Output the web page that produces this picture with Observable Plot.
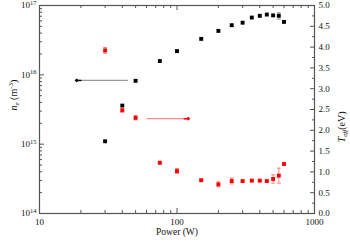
<!DOCTYPE html>
<html><head><meta charset="utf-8">
<script src="https://cdn.jsdelivr.net/npm/d3@7"></script>
<script src="https://cdn.jsdelivr.net/npm/@observablehq/plot@0.6"></script>
<style>
body{margin:0;background:#fff}
#c{position:relative;width:350px;height:242px}
#c svg{position:absolute;left:0;top:0}
</style>
</head><body><div id="c"></div>
<script>
// ---- data ----
const power   = [30, 40, 50, 75, 100, 150, 200, 250, 300, 350, 400, 450, 500, 550, 600];
const ne      = [1.1e15, 3.6e15, 8.2e15, 1.58e16, 2.2e16, 3.3e16, 4.3e16, 5.2e16, 5.65e16, 6.7e16, 7.1e16, 7.4e16, 7.2e16, 7.1e16, 5.8e16];
const neErr   = [0, 0, 0, 0, 0, 0, 0, 0, 0, 0, 0, 0, 0, 0.75e16, 0];
const teff    = [3.92, 2.48, 2.30, 1.22, 1.02, 0.80, 0.70, 0.78, 0.78, 0.79, 0.79, 0.78, 0.83, 0.91, 1.19];
const teffErr = [0.07, 0.04, 0.05, 0.02, 0.06, 0.02, 0.06, 0.07, 0.02, 0.02, 0.02, 0.02, 0.10, 0.18, 0.03];
const xTicks  = [10, 100, 1000];
const xMinor  = [20, 30, 40, 50, 60, 70, 80, 90, 200, 300, 400, 500, 600, 700, 800, 900];
const neTicks = [1e14, 1e15, 1e16, 1e17];
const neMinor = [2e14,3e14,4e14,5e14,6e14,7e14,8e14,9e14,2e15,3e15,4e15,5e15,6e15,7e15,8e15,9e15,2e16,3e16,4e16,5e16,6e16,7e16,8e16,9e16];
const tTicks  = [0, 0.5, 1, 1.5, 2, 2.5, 3, 3.5, 4, 4.5, 5];
const tMinor  = [0.25, 0.75, 1.25, 1.75, 2.25, 2.75, 3.25, 3.75, 4.25, 4.75];
const neArrowX = [44, 18.3];   // power, tail -> tip
const neArrowY = 8.3e15;
const tArrowX  = [60, 123];
const tArrowY  = 2.28;
const neLabel = "NE_LABEL", tLabel = "T_LABEL", xLabel = "Power (W)";

// ---- layout ----
const W = 350, H = 242, mL = 39, mR = 36, mT = 5, mB = 29;
const iW = W - mL - mR, iH = H - mT - mB;
const axisCol = "#555";
const style = {fontFamily: "'Liberation Serif', serif", fontSize: "9px", background: "transparent", color: "#111", overflow: "visible"};
const idx = d3.range(power.length);
const errIdx = idx.filter(i => neErr[i] > 0);
const hbar = {draw(ctx, size) { const r = Math.sqrt(size / Math.PI); ctx.moveTo(-r, 0); ctx.lineTo(r, 0); }};
const xScale = {type: "log", domain: [10, 1000]};

const p1 = Plot.plot({
  width: W, height: H, marginLeft: mL, marginRight: mR, marginTop: mT, marginBottom: mB,
  style,
  x: xScale,
  y: {type: "log", domain: [1e14, 1e17]},
  marks: [
    Plot.ruleX(xTicks, {x: d => d, insetTop: iH - 5, stroke: axisCol}),
    Plot.ruleX(xTicks, {x: d => d, insetBottom: iH - 5, stroke: axisCol}),
    Plot.ruleX(xMinor, {x: d => d, insetTop: iH - 3, stroke: axisCol}),
    Plot.ruleX(xMinor, {x: d => d, insetBottom: iH - 3, stroke: axisCol}),
    Plot.ruleY(neTicks, {y: d => d, insetRight: iW - 5, stroke: axisCol}),
    Plot.ruleY(neMinor, {y: d => d, insetRight: iW - 3, stroke: axisCol}),
    Plot.frame({stroke: axisCol, strokeWidth: 1.2}),
    Plot.ruleX(errIdx, {x: i => power[i], y1: i => ne[i] - neErr[i], y2: i => ne[i] + neErr[i], stroke: "#777", strokeWidth: 0.8}),
    Plot.dot(errIdx, {x: i => power[i], y: i => ne[i] - neErr[i], symbol: hbar, r: 2, stroke: "#777", fill: "none", strokeWidth: 0.8}),
    Plot.dot(errIdx, {x: i => power[i], y: i => ne[i] + neErr[i], symbol: hbar, r: 2, stroke: "#777", fill: "none", strokeWidth: 0.8}),
    Plot.dot(idx, {x: i => power[i], y: i => ne[i], symbol: "square", r: 2.2, fill: "#000"}),
    Plot.link([0], {x1: () => neArrowX[0], x2: () => neArrowX[1], y1: () => neArrowY, y2: () => neArrowY, stroke: "#999", strokeWidth: 1.2}),
    Plot.arrow([0], {x1: () => neArrowX[1] * 1.09, x2: () => neArrowX[1], y1: () => neArrowY, y2: () => neArrowY, stroke: "#000", strokeWidth: 1.5, headLength: 5, headAngle: 70}),
    Plot.axisX({ticks: xTicks, tickSize: 0, tickPadding: 5, tickFormat: d => String(d), label: null, fill: "#111"}),
    Plot.axisY({ticks: neTicks, tickSize: 0, tickPadding: 3, tickFormat: d => "10" + Math.round(Math.log10(d)), label: null, fill: "#111"}),
    Plot.text([neLabel], {frameAnchor: "left", dx: -26, dy: 1, rotate: -90, text: d => d, fontSize: 10}),
    Plot.text([xLabel], {frameAnchor: "bottom", dy: 21, text: d => d, fontSize: 9.5})
  ]
});

const p2 = Plot.plot({
  width: W, height: H, marginLeft: mL, marginRight: mR, marginTop: mT, marginBottom: mB,
  style,
  x: {...xScale, axis: null},
  y: {type: "linear", domain: [0, 5]},
  marks: [
    Plot.ruleY(tTicks, {y: d => d, insetLeft: iW - 4, stroke: axisCol}),
    Plot.ruleY(tMinor, {y: d => d, insetLeft: iW - 2, stroke: axisCol}),
    Plot.ruleX(idx, {x: i => power[i], y1: i => teff[i] - teffErr[i], y2: i => teff[i] + teffErr[i], stroke: "#f66", strokeWidth: 0.8}),
    Plot.dot(idx, {x: i => power[i], y: i => teff[i] - teffErr[i], symbol: hbar, r: 2, stroke: "#f66", fill: "none", strokeWidth: 0.8}),
    Plot.dot(idx, {x: i => power[i], y: i => teff[i] + teffErr[i], symbol: hbar, r: 2, stroke: "#f66", fill: "none", strokeWidth: 0.8}),
    Plot.dot(idx, {x: i => power[i], y: i => teff[i], symbol: "square", r: 2.2, fill: "#f00"}),
    Plot.link([0], {x1: () => tArrowX[0], x2: () => tArrowX[1], y1: () => tArrowY, y2: () => tArrowY, stroke: "#f88", strokeWidth: 1.2}),
    Plot.arrow([0], {x1: () => tArrowX[1] / 1.09, x2: () => tArrowX[1], y1: () => tArrowY, y2: () => tArrowY, stroke: "#f00", strokeWidth: 1.5, headLength: 5, headAngle: 70}),
    Plot.axisY({anchor: "right", ticks: tTicks, tickSize: 0, tickPadding: 4, tickFormat: d => d.toFixed(1), label: null, fill: "#111"}),
    Plot.text([tLabel], {frameAnchor: "right", dx: 27, dy: 2, rotate: -90, text: d => d, fontSize: 10})
  ]
});

const c = document.getElementById("c");
c.appendChild(p1);
c.appendChild(p2);

const NS = "http://www.w3.org/2000/svg";
function rich(el, parts) {
  el.textContent = "";
  for (const p of parts) {
    const t = document.createElementNS(NS, "tspan");
    t.textContent = p.t;
    if (p.i) t.setAttribute("font-style", "italic");
    if (p.s) t.setAttribute("font-size", p.s);
    if (p.dy) t.setAttribute("dy", p.dy);
    el.appendChild(t);
  }
}
function findText(svg, content) {
  return Array.from(svg.querySelectorAll("text")).find(t => t.textContent === content);
}
p1.querySelectorAll('[aria-label="y-axis tick label"] text').forEach(el => {
  const s = el.textContent;
  rich(el, [{t: "10"}, {t: s.slice(2), s: 6.5, dy: -3.5}]);
});
const nl = findText(p1, neLabel);
if (nl) rich(nl, [{t: "n", i: true}, {t: "e", i: true, s: 7, dy: 2}, {t: " (m", dy: -2}, {t: "-3", s: 7, dy: -4}, {t: ")", dy: 4}]);
const tl = findText(p2, tLabel);
if (tl) rich(tl, [{t: "T", i: true}, {t: "eff", i: true, s: 7, dy: 2}, {t: "(eV)", dy: -2}]);
</script>
</body></html>
